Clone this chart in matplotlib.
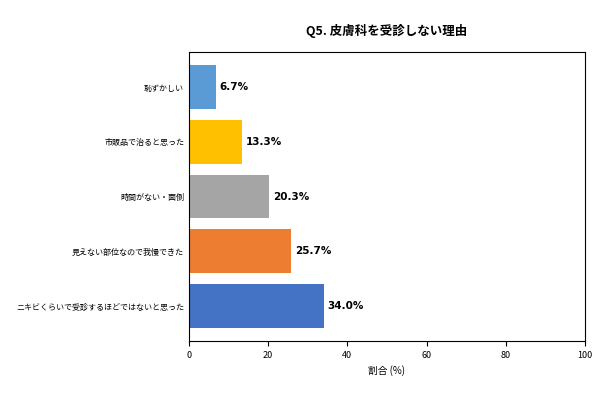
import matplotlib
matplotlib.use("Agg")
import matplotlib.pyplot as plt

plt.rcParams['font.family'] = ['Noto Sans CJK JP', 'DejaVu Sans']

categories = ["ニキビくらいで受診するほどではないと思った", "見えない部位なので我慢できた",
              "時間がない・面倒", "市販品で治ると思った", "恥ずかしい"]
values = [34.0, 25.7, 20.3, 13.3, 6.7]
colors = ["#4472C4", "#ED7D31", "#A5A5A5", "#FFC000", "#5B9BD5"]

fig = plt.figure(figsize=(6, 4), dpi=100)
ax = fig.add_axes([0.315, 0.1475, 0.66, 0.7225])
bars = ax.barh(categories, values, color=colors, height=0.8)
for b, v in zip(bars, values):
    ax.text(v + 1, b.get_y() + b.get_height()/2, f"{v:.1f}%", va="center", ha="left",
            fontsize=7.5, fontweight="bold", family=['DejaVu Sans'])
ax.set_xlim(0, 100)
ax.set_xticks([0, 20, 40, 60, 80, 100])
ax.tick_params(axis='x', labelsize=6.5)
ax.tick_params(axis='y', length=0, labelsize=5.8)
ax.set_xlabel("割合 (%)", fontsize=7)
ax.set_title("Q5. 皮膚科を受診しない理由", fontsize=9, fontweight="bold", pad=12)
for s in ax.spines.values():
    s.set_linewidth(0.8)
fig.savefig("out.png", dpi=100)
